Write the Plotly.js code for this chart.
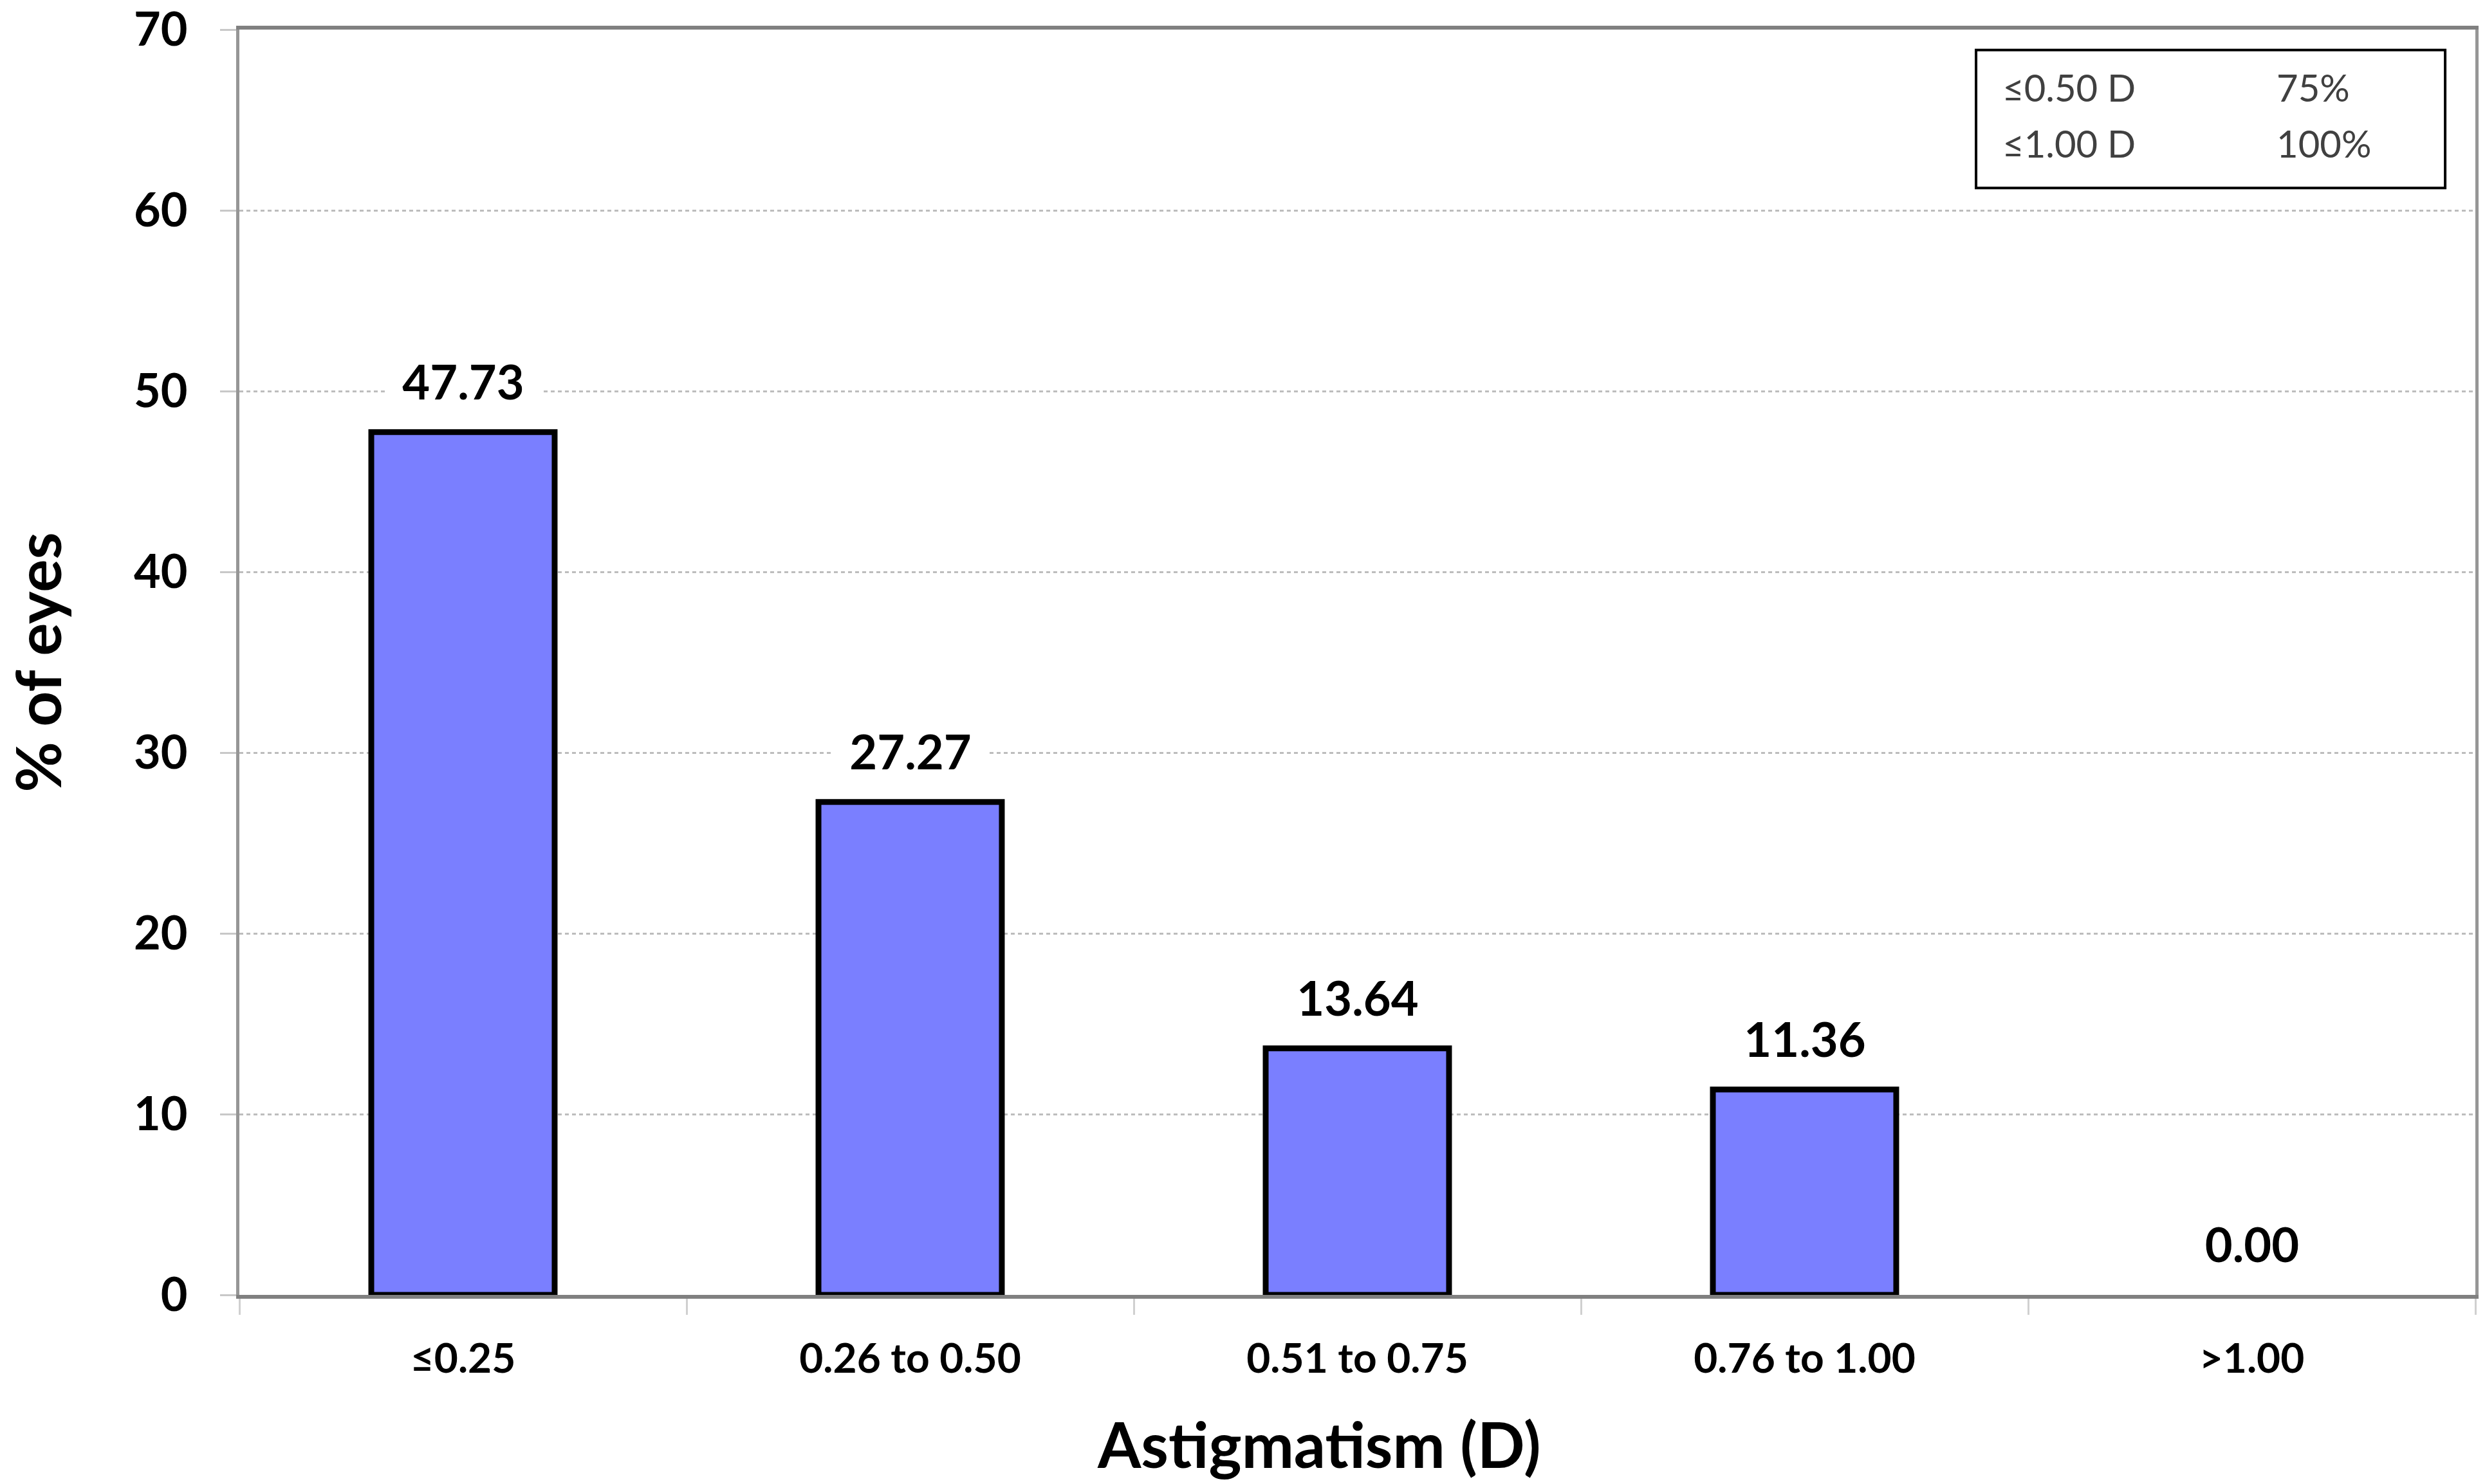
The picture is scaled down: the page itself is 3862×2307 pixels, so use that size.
<!DOCTYPE html>
<html>
<head>
<meta charset="utf-8">
<script src="https://cdn.plot.ly/plotly-3.0.1.min.js"></script>
<style>html,body{margin:0;padding:0;background:#fff;}#chart{width:3862px;height:2307px;}</style>
</head>
<body>
<div id="chart"></div>
<script>
const categories = ['≤0.25', '0.26 to 0.50', '0.51 to 0.75', '0.76 to 1.00', '>1.00'];
const percentEyes = [47.73, 27.27, 13.64, 11.36, 0.00];
const yTicks = [0, 10, 20, 30, 40, 50, 60, 70];
const insetLabels = ['≤0.50 D', '≤1.00 D'];
const insetValues = ['75%', '100%'];
const xTitle = 'Astigmatism (D)';
const yTitle = '% of eyes';

const FONT = 'Lato, "Open Sans", sans-serif';

const trace = {
  type: 'bar',
  x: categories,
  y: percentEyes,
  width: 0.41,
  marker: {
    color: '#7a7fff',
    line: { color: '#000000', width: percentEyes.map(v => (v > 0 ? 9 : 0)) }
  },
  hoverinfo: 'skip'
};

const valueLabels = categories.map((c, i) => ({
  x: c, y: percentEyes[i], xref: 'x', yref: 'y',
  text: percentEyes[i].toFixed(2),
  showarrow: false, yanchor: 'middle', yshift: 80,
  bgcolor: '#ffffff', width: 240, height: 128,
  font: { family: FONT, size: 74, color: '#000000', weight: 'bold' }
}));

const insetRowsY = [0.9544, 0.9103];
const insetAnn = [];
insetLabels.forEach((t, i) => {
  insetAnn.push({ x: 0.7879, y: insetRowsY[i], xref: 'paper', yref: 'paper', xanchor: 'left', yanchor: 'middle',
    text: t, showarrow: false, font: { family: FONT, size: 58, color: '#404040' } });
  insetAnn.push({ x: 0.9105, y: insetRowsY[i], xref: 'paper', yref: 'paper', xanchor: 'left', yanchor: 'middle',
    text: insetValues[i], showarrow: false, font: { family: FONT, size: 58, color: '#404040' } });
});

const xTitleAnn = {
  x: 0.4829, y: -0.1178, xref: 'paper', yref: 'paper', xanchor: 'center', yanchor: 'middle',
  text: xTitle, showarrow: false,
  font: { family: FONT, size: 97, color: '#000000', weight: 'bold' }
};

const layout = {
  width: 3862, height: 2307,
  margin: { l: 372, r: 15, t: 46, b: 294 },
  paper_bgcolor: '#ffffff', plot_bgcolor: '#ffffff',
  showlegend: false,
  xaxis: {
    type: 'category', range: [-0.5, 4.5],
    showline: true, linecolor: '#808080', linewidth: 6, mirror: true,
    ticks: 'outside', tickson: 'boundaries', ticklen: 25, tickwidth: 3, tickcolor: '#d0d0d0',
    tickfont: { family: FONT, size: 64, color: '#000000', weight: 'bold' },
    ticklabelstandoff: 38,
    showgrid: false, zeroline: false
  },
  yaxis: {
    range: [0, 70.0001], tickvals: yTicks, ticktext: yTicks.map(String),
    ticklabeloverflow: 'allow',
    showline: true, linecolor: '#969696', linewidth: 5, mirror: true,
    ticks: 'outside', ticklen: 25, tickwidth: 3, tickcolor: '#c8c8c8',
    tickfont: { family: FONT, size: 72, color: '#000000', weight: 'bold' },
    ticklabelstandoff: 36,
    showgrid: true, gridcolor: '#bdbdbd', gridwidth: 3, griddash: '6px,5px',
    zeroline: false,
    title: { text: yTitle, font: { family: FONT, size: 96, color: '#000000', weight: 'bold' }, standoff: 108 }
  },
  shapes: [{
    type: 'rect', xref: 'paper', yref: 'paper',
    x0: 0.7767, x1: 0.9865, y0: 0.8748, y1: 0.9838,
    line: { color: '#000000', width: 4 }, fillcolor: '#ffffff', layer: 'above'
  }],
  annotations: valueLabels.concat(insetAnn, [xTitleAnn])
};

Plotly.newPlot('chart', [trace], layout, { displayModeBar: false, staticPlot: true });
</script>
</body>
</html>
